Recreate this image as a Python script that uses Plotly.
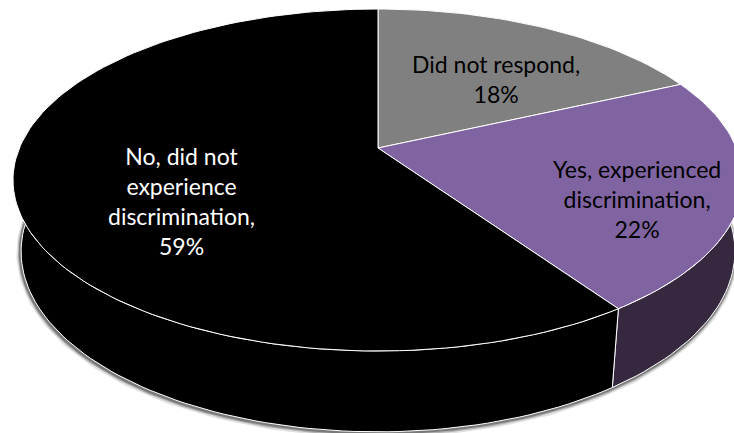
import numpy as np
import plotly.graph_objects as go

# Survey answers, in the order the slices run clockwise from 12 o'clock
categories = ["Did not respond", "Yes, experienced discrimination",
              "No, did not experience discrimination"]
values = [18, 22, 59]
label_lines = [["Did not respond,"],
               ["Yes, experienced", "discrimination,"],
               ["No, did not", "experience", "discrimination,"]]

top_colors = ["#808080", "#8064A2", "#000000"]
side_colors = ["#404040", "#35283F", "#000000"]
text_colors = ["#000000", "#000000", "#FFFFFF"]

# ---- 3-D view of the pie (unit radius disc, looked at in perspective) ----
TILT = np.arcsin(0.4602)      # camera elevation
EYE = 4.744                   # camera distance from the disc centre
DEPTH = 0.226                 # thickness of the disc
S, C = np.sin(TILT), np.cos(TILT)

W, H = 734, 433
CX, CY = 378.0, 148.0         # pixel position of the disc centre
SCALE = 1701.0                # pixels per projected unit


def project(x, y, z):
    den = EYE + y * C - z * S
    return x / den, (y * S + z * C) / den


def arc(a0, a1, z, n=240):
    t = np.radians(np.linspace(a0, a1, max(int(abs(a1 - a0) / 360 * n), 8)))
    return project(np.sin(t), np.cos(t), np.full_like(t, z))


def px_to_data(px, py):
    return (px - CX) / SCALE, (CY - py) / SCALE


total = sum(values)
bounds = np.concatenate([[0], np.cumsum(values) / total * 360])

fig = go.Figure()

# soft shadow under the lower rim
bx, by = arc(80, 280, -DEPTH, n=600)
for width, alpha, off in [(8, 0.12, 1.8), (5, 0.22, 1.5), (3, 0.30, 1.2)]:
    fig.add_trace(go.Scatter(x=bx - 0.8 / SCALE, y=by - off / SCALE, mode="lines",
                             line=dict(color=f"rgba(0,0,0,{alpha})", width=width),
                             hoverinfo="skip", showlegend=False))

# side walls
for i in range(len(values)):
    tx, ty = arc(bounds[i], bounds[i + 1], 0.0)
    lx, ly = arc(bounds[i], bounds[i + 1], -DEPTH)
    fig.add_trace(go.Scatter(
        x=np.concatenate([tx, lx[::-1], tx[:1]]),
        y=np.concatenate([ty, ly[::-1], ty[:1]]),
        mode="lines", fill="toself", fillcolor=side_colors[i],
        line=dict(color="white", width=1),
        hoverinfo="skip", showlegend=False))

# top faces
for i in range(len(values)):
    tx, ty = arc(bounds[i], bounds[i + 1], 0.0)
    fig.add_trace(go.Scatter(
        x=np.concatenate([[0], tx, [0]]),
        y=np.concatenate([[0], ty, [0]]),
        mode="lines", fill="toself", fillcolor=top_colors[i],
        line=dict(color="white", width=1),
        name=categories[i], hoverinfo="name", showlegend=False))

# data labels
label_px = [(495.5, 79), (637, 198.5), (181, 201)]
for i in range(len(values)):
    ax, ay = px_to_data(*label_px[i])
    text = "<br>".join(label_lines[i] + [f"{values[i]}%"])
    fig.add_annotation(x=ax, y=ay, text=text, showarrow=False,
                       xanchor="center", yanchor="middle",
                       font=dict(family="Lato", size=23, color=text_colors[i]))

x0, _ = px_to_data(0, 0)
x1, _ = px_to_data(W, 0)
_, y0 = px_to_data(0, H)
_, y1 = px_to_data(0, 0)
fig.update_layout(
    width=W, height=H, margin=dict(l=0, r=0, t=0, b=0),
    paper_bgcolor="white", plot_bgcolor="white",
    xaxis=dict(range=[x0, x1], visible=False, fixedrange=True),
    yaxis=dict(range=[y0, y1], visible=False, fixedrange=True),
    showlegend=False,
)

fig.write_html("out.html")
